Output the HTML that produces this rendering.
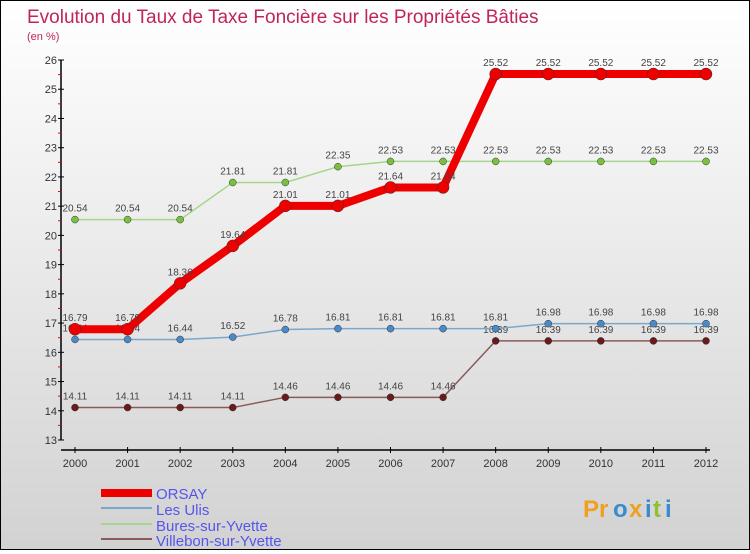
<!DOCTYPE html>
<html><head><meta charset="utf-8"><style>
html,body{margin:0;padding:0}
body{width:750px;height:550px;overflow:hidden;font-family:"Liberation Sans",sans-serif}
#wrap{position:relative;width:748px;height:548px;border:1px solid #000;background:linear-gradient(#ffffff,#d2d2d2)}
</style></head><body>
<div id="wrap">
<svg id="chart" width="748" height="548" xmlns="http://www.w3.org/2000/svg">
<text x="26" y="22" font-size="19" fill="#c0245e">Evolution du Taux de Taxe Foncière sur les Propriétés Bâties</text>
<text x="26" y="39" font-size="11" fill="#c0245e">(en %)</text>
<g id="axes"></g>
<g id="series"></g>
<g id="legend" font-size="15" fill="#5555ee">
<rect x="100" y="488" width="51" height="8" fill="#ee0000"/>
<text x="155" y="498">ORSAY</text>
<rect x="100" y="506" width="51" height="2" fill="#7aa7cc"/>
<text x="155" y="514">Les Ulis</text>
<rect x="100" y="522" width="51" height="2" fill="#a6d68a"/>
<text x="155" y="530">Bures-sur-Yvette</text>
<rect x="100" y="537" width="51" height="2" fill="#8a5a5a"/>
<text x="155" y="545">Villebon-sur-Yvette</text>
</g>
<g font-size="24" font-weight="bold">
<text x="582" y="516" fill="#f0a020">Pr</text><text x="612" y="516" fill="#3a8ad0">o</text><text x="628" y="516" fill="#f0a020">x</text><text x="644" y="516" fill="#3a8ad0">i</text><text x="652" y="516" fill="#90c030">t</text><text x="664" y="516" fill="#3a8ad0">i</text>
</g>
</svg>
</div>
<script>
const years=["2000","2001","2002","2003","2004","2005","2006","2007","2008","2009","2010","2011","2012"];
const yTicks=[13,14,15,16,17,18,19,20,21,22,23,24,25,26];
const orsay=[16.79,16.79,18.36,19.64,21.01,21.01,21.64,21.64,25.52,25.52,25.52,25.52,25.52];
const lesUlis=[16.44,16.44,16.44,16.52,16.78,16.81,16.81,16.81,16.81,16.98,16.98,16.98,16.98];
const bures=[20.54,20.54,20.54,21.81,21.81,22.35,22.53,22.53,22.53,22.53,22.53,22.53,22.53];
const villebon=[14.11,14.11,14.11,14.11,14.46,14.46,14.46,14.46,16.39,16.39,16.39,16.39,16.39];
const NS="http://www.w3.org/2000/svg";
const X0=74,X1=705,Y0=439,Y1=59,VMIN=13,VMAX=26;
const xs=i=>X0+(X1-X0)*i/(years.length-1);
const ys=v=>Y0-(v-VMIN)*(Y0-Y1)/(VMAX-VMIN);
function mk(tag,attrs,parent){const e=document.createElementNS(NS,tag);for(const k in attrs)e.setAttribute(k,attrs[k]);parent.appendChild(e);return e;}
const axes=document.getElementById('axes');
let e=mk('line',{x1:60,y1:Y1,x2:60,y2:Y0,stroke:'#000','stroke-width':1.5},axes);


e=mk('line',{x1:60,y1:449,x2:X1+4,y2:449,stroke:'#000','stroke-width':1.5},axes);


yTicks.forEach(v=>{
  const y=ys(v);
  mk('line',{x1:57,y1:y,x2:63,y2:y,stroke:'#000'},axes);
  if(v<VMAX) mk('line',{x1:57,y1:ys(v+0.5),x2:60,y2:ys(v+0.5),stroke:'#e00'},axes);
  const t=mk('text',{x:56,y:y+4,'font-size':11,fill:'#333','text-anchor':'end'},axes);
  t.textContent=v;
  
  
});
years.forEach((yr,i)=>{
  const x=xs(i);
  mk('line',{x1:x,y1:446,x2:x,y2:452,stroke:'#000'},axes);
  const t=mk('text',{x:x,y:466,'font-size':11,fill:'#333','text-anchor':'middle'},axes);
  t.textContent=yr;
  
  
});
const ser=document.getElementById('series');
function draw(vals,line,dot,lw,r,name){
  const g=mk('g',{},ser);
  
  
  const p=mk('polyline',{points:vals.map((v,i)=>xs(i)+','+ys(v)).join(' '),fill:'none',stroke:line,'stroke-width':lw},g);
  
  
  vals.forEach((v,i)=>{
    const c=mk('circle',{cx:xs(i),cy:ys(v),r:r,fill:dot,stroke:'#333','stroke-width':0.5},g);
    
    
    const t=mk('text',{x:xs(i),y:ys(v)-8,'font-size':10,fill:'#444','text-anchor':'middle'},g);
    t.textContent=v.toFixed(2).replace(/0$/,'').replace(/\.$/,'');
    if(v.toFixed(2).slice(-1)==='0')t.textContent=v.toFixed(2);
    
    
  });
}
draw(villebon,'#8a5a5a','#6a1a1a',1.5,3.5,'villebon');
draw(lesUlis,'#7aa7cc','#4a8ac8',1.5,3.5,'les-ulis');
draw(bures,'#a6d68a','#7ac040',1.5,3.5,'bures');
draw(orsay,'#ee0000','#ee0000',8,6,'orsay');
</script>
</body></html>
